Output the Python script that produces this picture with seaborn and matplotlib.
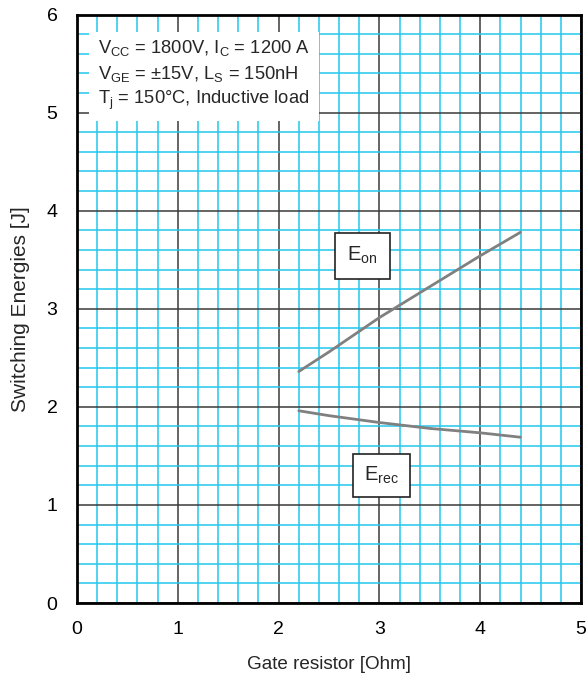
import numpy as np
import pandas as pd
import matplotlib
matplotlib.use("Agg")
import matplotlib.pyplot as plt
import seaborn as sns

# Data
rg_on = [2.2, 2.5, 3.0, 3.5, 4.0, 4.4]
e_on = [2.36, 2.56, 2.91, 3.225, 3.54, 3.78]
rg_rec = [2.2, 2.5, 3.0, 3.5, 4.0, 4.4]
e_rec = [1.96, 1.91, 1.84, 1.78, 1.735, 1.69]
x_ticks = [0, 1, 2, 3, 4, 5]
y_ticks = [0, 1, 2, 3, 4, 5, 6]

sns.set_theme(style="white")
plt.rcParams['font.family'] = ['Liberation Sans', 'DejaVu Sans']

df = pd.concat([
    pd.DataFrame({"Rg": rg_on, "E": e_on, "curve": "Eon"}),
    pd.DataFrame({"Rg": rg_rec, "E": e_rec, "curve": "Erec"}),
])

fig = plt.figure(figsize=(5.88, 6.81), dpi=100)
ax = fig.add_axes([77/588, 1-603/681, (581-77)/588, (603-14.5)/681])

sns.lineplot(data=df, x="Rg", y="E", hue="curve", palette=["#808080", "#808080"],
             linewidth=2.0, legend=False, ax=ax, sort=False)

ax.set_xlim(0, 5)
ax.set_ylim(0, 6)
ax.set_xticks(x_ticks)
ax.set_yticks(y_ticks)
ax.set_xticks(np.arange(0, 5.01, 0.2), minor=True)
ax.set_yticks(np.arange(0, 6.01, 0.2), minor=True)
ax.grid(which="minor", color="#22c8ee", linewidth=1.1, zorder=0)
ax.grid(which="major", color="#3a3a3a", linewidth=1.1, zorder=0)
ax.set_axisbelow(True)
ax.tick_params(which="both", length=0, labelsize=14, colors="black")
ax.tick_params(axis="x", pad=13)
ax.tick_params(axis="y", pad=14)
for s in ax.spines.values():
    s.set_linewidth(2.0)
    s.set_color("black")
    s.set_visible(True)

ax.set_xlabel("Gate resistor [Ohm]", fontsize=13.6, labelpad=13)
ax.set_ylabel("Switching Energies [J]", fontsize=15, labelpad=12)

ax.text(0.21, 5.38,
        "V$_\\mathregular{CC}$ = 1800V, I$_\\mathregular{C}$ = 1200 A\n"
        "V$_\\mathregular{GE}$ = ±15V, L$_\\mathregular{S}$ = 150nH\n"
        "T$_\\mathregular{j}$ = 150°C, Inductive load",
        fontsize=13.2, va="center", ha="left", linespacing=1.35,
        bbox=dict(boxstyle="square,pad=0.5", facecolor="white", edgecolor="none"),
        zorder=5)

ax.text(2.83, 3.54, "E$_\\mathregular{on}$", fontsize=14.5, ha="center", va="center",
        bbox=dict(boxstyle="square,pad=0.6", facecolor="white", edgecolor="#222222", linewidth=1.2),
        zorder=5)
ax.text(3.02, 1.30, "E$_\\mathregular{rec}$", fontsize=14.5, ha="center", va="center",
        bbox=dict(boxstyle="square,pad=0.55", facecolor="white", edgecolor="#222222", linewidth=1.2),
        zorder=5)

fig.savefig("out.png", dpi=100)
